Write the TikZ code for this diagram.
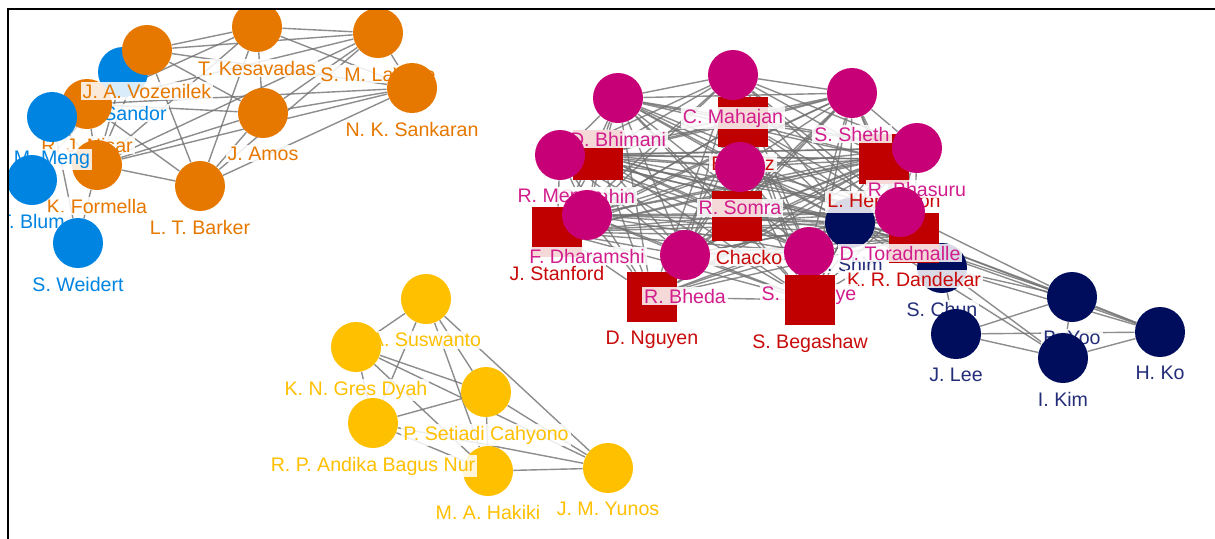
\documentclass[tikz,border=0pt]{standalone}
\usepackage{fontspec}
\setmainfont{Liberation Sans}
\usetikzlibrary{positioning, backgrounds}

\definecolor{auorange}{RGB}{230,120,0}
\definecolor{aublue}{RGB}{0,132,225}
\definecolor{aupink}{RGB}{200,0,120}
\definecolor{aured}{RGB}{192,0,0}
\definecolor{aunavy}{RGB}{0,12,92}
\definecolor{auyellow}{RGB}{255,192,0}
\definecolor{labpink}{RGB}{210,30,140}
\definecolor{labred}{RGB}{200,10,10}
\definecolor{labnavy}{RGB}{35,45,120}
\definecolor{edgegray}{RGB}{112,112,112}

\tikzset{
  person/.style={fill=#1, minimum size=25pt, inner sep=0pt},
  tag/.style={text=#1, fill=white, fill opacity=0.85, text opacity=1,
    inner sep=1pt, font=\fontsize{9.8}{11}\selectfont},
  link/.style={draw=edgegray, line width=0.7pt, opacity=0.8},
  weak/.style={draw=edgegray, line width=0.7pt, opacity=0.3},
}

\begin{document}
\begin{tikzpicture}[x=0.5pt, y=-0.5pt]
  \useasboundingbox (0,0) rectangle (1215,538);
  \begin{scope}
  \clip (8,9) rectangle (1215,538);
  % authors, in drawing order (later ones cover earlier ones)
  \foreach \n/\x/\y/\sh/\c/\lc/\t in {
    b1/123/72/circle/aublue/aublue/A. Sandor,
    o8/87/104/circle/auorange/auorange/R. J. Nisar,
    o1/147/50/circle/auorange/auorange/J. A. Vozenilek,
    o2/257/27/circle/auorange/auorange/T. Kesavadas,
    o3/378/33/circle/auorange/auorange/S. M. LaValle,
    o4/412/88/circle/auorange/auorange/N. K. Sankaran,
    o5/263/113/circle/auorange/auorange/J. Amos,
    o6/200/186/circle/auorange/auorange/L. T. Barker,
    o7/97/165/circle/auorange/auorange/K. Formella,
    b2/52/117/circle/aublue/aublue/M. Meng,
    b3/32/180/circle/aublue/aublue/T. Blum,
    b4/78/243/circle/aublue/aublue/S. Weidert,
    y1/426/299/circle/auyellow/auyellow/A. Suswanto,
    y2/356/347/circle/auyellow/auyellow/K. N. Gres Dyah,
    y3/486/392/circle/auyellow/auyellow/P. Setiadi Cahyono,
    y5/488/471/circle/auyellow/auyellow/M. A. Hakiki,
    y4/373/423/circle/auyellow/auyellow/R. P. Andika Bagus Nur,
    y6/608/468/circle/auyellow/auyellow/J. M. Yunos,
    s1/743/122/rectangle/aured/labred/B. Diaz,
    sx/598/155/rectangle/aured/labpink/S. Sahin,
    s2/737/216/rectangle/aured/labred/A. Chacko,
    n1/850/223/circle/aunavy/labnavy/J. Shim,
    s3/884/159/rectangle/aured/labred/L. Herrington,
    s5/557/232/rectangle/aured/labred/J. Stanford,
    s6/652/297/rectangle/aured/labred/D. Nguyen,
    n2/942/268/circle/aunavy/labnavy/S. Chun,
    s4/914/238/rectangle/aured/labred/K. R. Dandekar,
    p1/618/98/circle/aupink/labpink/D. Bhimani,
    p2/733/75/circle/aupink/labpink/C. Mahajan,
    p3/852/93/circle/aupink/labpink/S. Sheth,
    p4/917/148/circle/aupink/labpink/R. Bhasuru,
    p5/560/155/circle/aupink/labpink/R. Menon,
    p6/587/215/circle/aupink/labpink/F. Dharamshi,
    p7/740/167/circle/aupink/labpink/R. Somra,
    p8/685/255/circle/aupink/labpink/R. Bheda,
    p9/809/252/circle/aupink/labpink/S. Chitalye,
    s7/810/300/rectangle/aured/labred/S. Begashaw,
    p10/900/212/circle/aupink/labpink/D. Toradmalle,
    n3/956/334/circle/aunavy/labnavy/J. Lee,
    n4/1072/297/circle/aunavy/labnavy/B. Yoo,
    n5/1063/358/circle/aunavy/labnavy/I. Kim,
    n6/1160/332/circle/aunavy/labnavy/H. Ko}{
    \node[person=\c, shape=\sh] (\n) at (\x,\y) {};
    \node[tag=\lc, below=3pt of \n] (\n-l) {\t};
  }
  \end{scope}

  % co-authorship links
  \begin{pgfonlayer}{background}
    \def\orangeset{o1,o2,o3,o4,o5,o6,o7,o8}
    \def\yellowset{y1,y2,y3,y4,y5,y6}
    \def\coreset{s1,sx,s2,s3,s4,s5,s6,s7,p1,p2,p3,p4,p5,p6,p7,p8,p9,p10,n1}
    \foreach \u [count=\i] in \orangeset
      \foreach \v [count=\j] in \orangeset
        {\ifnum\j>\i \draw[link] (\u) -- (\v); \fi}
    \foreach \u [count=\i] in \yellowset
      \foreach \v [count=\j] in \yellowset
        {\ifnum\j>\i \draw[link] (\u) -- (\v); \fi}
    \foreach \u [count=\i] in \coreset
      \foreach \v [count=\j] in \coreset
        {\ifnum\j>\i \draw[link] (\u) -- (\v); \fi}
    \foreach \u/\v in {b2/b4, b4/o7, b1/o7, b2/o7}
      \draw[link] (\u) -- (\v);
    \foreach \u/\v in {b1/b2, b1/b3, b2/b3, b3/b4, b1/o8}
      \draw[weak] (\u) -- (\v);
    \foreach \u/\v in {n1/n4, n1/n6, n2/n4, n2/n6, s4/n4, s4/n6, p10/n4,
                       n1/n5, n2/n5, n1/n2, n2/n3, n3/n4, n3/n5, n3/n6,
                       n4/n5, n4/n6, n5/n6}
      \draw[link] (\u) -- (\v);
  \end{pgfonlayer}

  % frame
  \draw[line width=1pt] (7.5,560) -- (7.5,9) -- (1230,9);
\end{tikzpicture}
\end{document}
